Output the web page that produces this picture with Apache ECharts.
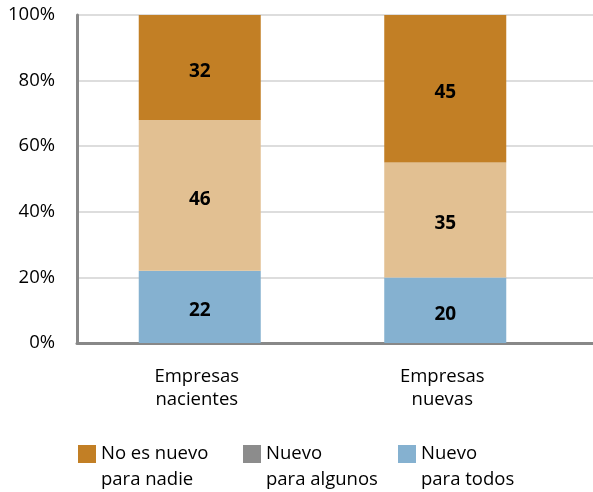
<!DOCTYPE html>
<html>
<head>
<meta charset="utf-8">
<script src="https://cdn.jsdelivr.net/npm/echarts@6/dist/echarts.min.js"></script>
<style>
  html, body { margin: 0; padding: 0; background: #fff; }
  #chart { width: 593px; height: 492px; }
</style>
</head>
<body>
<div id="chart"></div>
<script>
var categories = ['Empresas\nnacientes', 'Empresas\nnuevas'];
var seriesNames = ['No es nuevo\npara nadie', 'Nuevo\npara algunos', 'Nuevo\npara todos'];
var todos = [22, 20];
var algunos = [46, 35];
var nadie = [32, 45];
var yTicks = [0, 20, 40, 60, 80, 100];

var font = '"Open Sans", "Noto Sans", sans-serif';
var barColors = ['#C27F25', '#E2C092', '#85B1D0'];
var legendColors = ['#C27F25', '#8C8C8C', '#85B1D0'];

var myChart = echarts.init(document.getElementById('chart'));

function makeSeries(name, data, color) {
  return {
    name: name,
    type: 'bar',
    stack: 'total',
    xAxisIndex: 1,
    yAxisIndex: 1,
    barWidth: '49.7%',
    data: data,
    itemStyle: { color: color },
    label: {
      show: true,
      position: 'inside',
      offset: [0, 4],
      color: '#000',
      fontWeight: 'bold',
      fontSize: 19,
      fontFamily: font
    }
  };
}

function makeLegend(i, left) {
  return {
    left: left,
    top: 402,
    itemWidth: 18,
    itemHeight: 18,
    itemGap: 6,
    icon: 'rect',
    selectedMode: false,
    data: [{ name: seriesNames[i], itemStyle: { color: legendColors[i] } }],
    formatter: function (name) { return '\n' + name; },
    textStyle: {
      fontSize: 18.5,
      fontFamily: font,
      color: '#000',
      lineHeight: 26,
      padding: [16, 0, 0, 0]
    }
  };
}

var option = {
  animation: false,
  grid: [
    { left: 77, right: 0, top: 15, bottom: 149 },
    { left: 77, right: 25, top: 15, bottom: 149 }
  ],
  xAxis: [{
    type: 'category',
    gridIndex: 0,
    data: [''],
    axisTick: { show: false },
    axisLabel: { show: false },
    axisLine: { lineStyle: { color: '#888', width: 3 } }
  }, {
    type: 'category',
    gridIndex: 1,
    data: categories,
    axisTick: { show: false },
    axisLine: { show: false },
    axisLabel: {
      color: '#000',
      fontSize: 18.5,
      fontFamily: font,
      lineHeight: 23,
      margin: 22,
      padding: [0, 6, 0, 0]
    }
  }],
  yAxis: [{
    type: 'value',
    gridIndex: 0,
    min: yTicks[0],
    max: yTicks[yTicks.length - 1],
    interval: 20,
    axisLine: { show: true, lineStyle: { color: '#888', width: 3 } },
    axisTick: { show: false },
    splitLine: { lineStyle: { color: '#d2d2d2', width: 1.5 } },
    axisLabel: {
      formatter: '{value}%',
      color: '#000',
      fontSize: 18.5,
      fontFamily: font,
      margin: 22
    }
  }, {
    type: 'value',
    gridIndex: 1,
    min: yTicks[0],
    max: yTicks[yTicks.length - 1],
    show: false
  }],
  legend: [makeLegend(0, 73), makeLegend(1, 238), makeLegend(2, 393)],
  series: [
    makeSeries(seriesNames[2], todos, barColors[2]),
    makeSeries(seriesNames[1], algunos, barColors[1]),
    makeSeries(seriesNames[0], nadie, barColors[0])
  ]
};
myChart.setOption(option);
</script>
</body>
</html>
